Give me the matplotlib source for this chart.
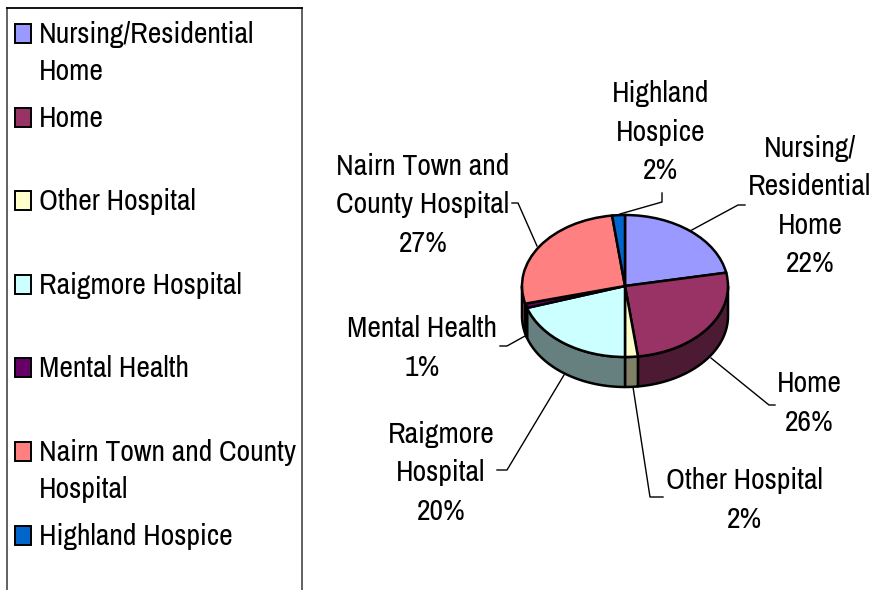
import numpy as np
from matplotlib import pyplot as plt
from matplotlib.patches import Rectangle, Polygon
from matplotlib.lines import Line2D

W, H = 874, 590

categories = ["Nursing/Residential Home", "Home", "Other Hospital", "Raigmore Hospital",
              "Mental Health", "Nairn Town and County Hospital", "Highland Hospice"]
shares = [22, 26, 2, 20, 1, 27, 2]
top_colors = ["#9999ff", "#993366", "#ffffcc", "#ccffff", "#660066", "#ff8080", "#0066cc"]
wall_colors = ["#4d4d80", "#4d1a33", "#808066", "#668080", "#330033", "#804040", "#003366"]

# wrapped text for legend and the data labels
legend_text = ["Nursing/Residential\nHome", "Home", "Other Hospital", "Raigmore Hospital",
               "Mental Health", "Nairn Town and County\nHospital", "Highland Hospice"]
label_text = ["Nursing/\nResidential\nHome", "Home", "Other Hospital", "Raigmore\nHospital",
              "Mental Health", "Nairn Town and\nCounty Hospital", "Highland\nHospice"]

# layout, in pixels of the reference
legend_y = [33, 117, 200, 284, 367, 451, 535]
label_xy = [(810, 206), (809, 403), (744, 500), (441, 473), (422, 348), (423, 205), (661, 132)]
leaders = [
    [(745, 205), (738, 205), (690, 231)],
    [(775, 405), (769, 405), (711, 358)],
    [(663, 497), (650, 497), (633, 387)],
    [(497, 470), (507, 470), (564, 375)],
    [(500, 346), (507, 346), (525, 336)],
    [(512, 203), (518, 203), (537, 246)],
    [(662, 193), (662, 202), (620, 214)],
]
cx, cy, rx, ry, depth = 625, 286, 103, 71, 30

plt.rcParams['font.family'] = ['Archivo Narrow', 'Liberation Sans', 'DejaVu Sans']
fs = 21.4

fig = plt.figure(figsize=(W / 100, H / 100), dpi=100)
bg = fig.add_axes([0, 0, 1, 1])
bg.set_xlim(0, W)
bg.set_ylim(H, 0)
bg.axis('off')

# legend box, open at the bottom
bg.plot([7, 7], [8, H], color="#555555", lw=1.3)
bg.plot([302, 302], [8, H], color="#555555", lw=1.3)
bg.plot([7, 302], [8, 8], color="black", lw=1.3)
for name, c, y in zip(legend_text, top_colors, legend_y):
    bg.add_patch(Rectangle((14.5, y - 9.5), 16, 19, fc=c, ec="black", lw=1.4))
    bg.text(39, y - 12, name, ha='left', va='top', fontsize=fs, linespacing=1.45)

# pie
px0, px1 = cx - 1.1 * rx, cx + 1.1 * rx
py0, py1 = cy - 1.1 * ry, cy + 1.6 * ry
ax = fig.add_axes([px0 / W, 1 - py1 / H, (px1 - px0) / W, (py1 - py0) / H])
wedges, _ = ax.pie(shares, colors=top_colors, startangle=90, counterclock=False, radius=1,
                   wedgeprops=dict(edgecolor="black", linewidth=1.8, zorder=5))
ax.set_aspect('auto')
ax.set_xlim(-1.1, 1.1)
ax.set_ylim(-1.6, 1.1)

# side wall of the cake, front half only
d = depth / ry
for w, c in zip(wedges, wall_colors):
    a, b = w.theta1, w.theta2
    if a < 0:
        a, b = a + 360, b + 360
    a, b = max(a, 180), min(b, 360)
    if a >= b:
        continue
    t = np.radians(np.linspace(a, b, 40))
    xs = np.cos(t)
    ys = np.sin(t)
    pts = np.r_[np.c_[xs, ys], np.c_[xs[::-1], ys[::-1] - d]]
    ax.add_patch(Polygon(pts, closed=True, fc=c, ec="black", lw=1.8, zorder=2, joinstyle='round'))

# data labels and leader lines
for txt, s, (x, y) in zip(label_text, shares, label_xy):
    bg.text(x, y, f"{txt}\n{s}%", ha='center', va='center', fontsize=fs, linespacing=1.52, zorder=8)
for pts in leaders:
    xs, ys = zip(*pts)
    bg.add_line(Line2D(xs, ys, color="black", lw=1.0))

fig.savefig("out.png", dpi=100)
